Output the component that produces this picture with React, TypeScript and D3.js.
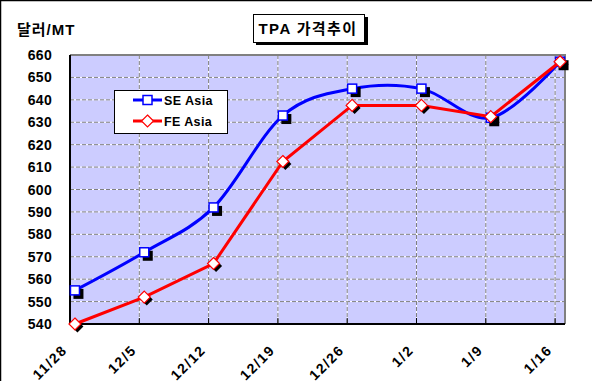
import React from 'react';
import * as d3 from 'd3';

const dateStrings = ['2003-11-28', '2003-12-05', '2003-12-12', '2003-12-19', '2003-12-26', '2004-01-02', '2004-01-09', '2004-01-16'];
const tickLabels = ['11/28', '12/5', '12/12', '12/19', '12/26', '1/2', '1/9', '1/16'];
const seAsia = [555, 572, 592, 633, 645, 645, 632, 657];
const feAsia = [540, 552, 567, 612.5, 637.5, 637.5, 632.5, 657];
const yTicks = [540, 550, 560, 570, 580, 590, 600, 610, 620, 630, 640, 650, 660];
const seriesNames = ['SE Asia', 'FE Asia'];
const chartTitle = 'TPA 가격추이';
const yAxisTitle = '달러/MT';

const W = 592;
const H = 386;
const PL = 70, PR = 565, PT = 55, PB = 324;
const FONT = "'Liberation Sans', Arial, 'Noto Sans CJK KR', sans-serif";

const DAY = 86400000;

export default function App() {
  const dates = dateStrings.map((s) => new Date(s + 'T00:00:00Z'));
  const start = dates[0];
  const end = new Date(dates[dates.length - 1].getTime() + DAY);
  const x = d3.scaleUtc().domain([start, end]).range([PL, PR]);
  const y = d3.scaleLinear().domain([540, 660]).range([PB, PT]);
  const px = (i: number) => x(new Date(dates[i].getTime() + DAY / 2));

  const seLine = d3
    .line<number>()
    .x((_, i) => px(i))
    .y((v) => y(v))
    .curve(d3.curveCatmullRom.alpha(0));
  const feLine = d3
    .line<number>()
    .x((_, i) => px(i))
    .y((v) => y(v))
    .curve(d3.curveLinear);

  const sq = 9;
  const dm = 6;
  const diamond = (cx: number, cy: number) =>
    `M${cx},${cy - dm}L${cx + dm},${cy}L${cx},${cy + dm}L${cx - dm},${cy}Z`;

  return (
    <svg width={W} height={H} style={{ position: 'absolute', left: 0, top: 0, background: '#fff' }} fontFamily={FONT}>
      <rect x={0} y={0} width={W} height={H} fill="#fff" />
      <line x1={0} y1={0.5} x2={W} y2={0.5} stroke="#000" strokeWidth={1.5} />
      <line x1={0.5} y1={0} x2={0.5} y2={381} stroke="#000" strokeWidth={1.5} />

      {/* plot area */}
      <rect x={PL} y={PT} width={PR - PL} height={PB - PT} fill="#CCCCFF" />
      {yTicks.slice(1, -1).map((t) => (
        <g key={'gy' + t}>
          <line x1={PL} x2={PR} y1={y(t)} y2={y(t)} stroke="#fff" strokeWidth={1} />
          <line x1={PL} x2={PR} y1={y(t)} y2={y(t)} stroke="#808080" strokeWidth={1} strokeDasharray="4 2" />
        </g>
      ))}
      {dates.slice(1).map((d, i) => (
        <g key={'gx' + i}>
          <line x1={x(d)} x2={x(d)} y1={PT} y2={PB} stroke="#fff" strokeWidth={1} />
          <line x1={x(d)} x2={x(d)} y1={PT} y2={PB} stroke="#808080" strokeWidth={1} strokeDasharray="4 2" />
          <line x1={x(d)} x2={x(d)} y1={PB - 6} y2={PB} stroke="#000" strokeWidth={1} />
        </g>
      ))}
      <line x1={PL} x2={PR + 1} y1={PT} y2={PT} stroke="#808080" strokeWidth={2} />
      <line x1={PR} x2={PR} y1={PT} y2={PB} stroke="#808080" strokeWidth={2} />
      <line x1={PL} x2={PR} y1={PB} y2={PB} stroke="#000" strokeWidth={2} />
      <line x1={PL} x2={PL} y1={PT} y2={PB + 1} stroke="#000" strokeWidth={2} />

      {/* y tick labels */}
      {yTicks.map((t) => (
        <text key={'yl' + t} x={52} y={y(t)} dy="0.36em" textAnchor="end" fontSize={14} fontWeight="bold" fill="#000" letterSpacing={0.3}>
          {t}
        </text>
      ))}
      {/* x tick labels */}
      {dates.map((d, i) => (
        <text
          key={'xl' + i}
          transform={`translate(${x(d) - 2},${351}) rotate(-45)`}
          textAnchor="end"
          fontSize={14}
          fontWeight="bold"
          fill="#000"
          letterSpacing={1.5}
        >
          {tickLabels[i]}
        </text>
      ))}

      {/* series lines */}
      <path d={seLine(seAsia) || ''} fill="none" stroke="#0000FF" strokeWidth={3} />
      {seAsia.map((v, i) => (
        <g key={'sm' + i}>
          <rect x={px(i) - sq / 2 + 3} y={y(v) - sq / 2 + 3} width={sq + 1} height={sq + 1} fill="#000" />
          <rect x={px(i) - sq / 2} y={y(v) - sq / 2} width={sq} height={sq} fill="#fff" stroke="#0000FF" strokeWidth={1.5} />
        </g>
      ))}
      <path d={feLine(feAsia) || ''} fill="none" stroke="#FF0000" strokeWidth={3} />
      {feAsia.map((v, i) => (
        <g key={'fm' + i}>
          <path d={diamond(px(i) + 2.5, y(v) + 2.5)} fill="#000" />
          <path d={diamond(px(i), y(v))} fill="#fff" stroke="#FF0000" strokeWidth={1.2} />
        </g>
      ))}

      {/* legend */}
      <rect x={114.5} y={90.5} width={113} height={43} fill="#fff" stroke="#000" strokeWidth={1} />
      {seriesNames.map((name, i) => {
        const ly = i === 0 ? 100 : 121;
        const color = i === 0 ? '#0000FF' : '#FF0000';
        return (
          <g key={'lg' + i}>
            <line x1={133} x2={162} y1={ly} y2={ly} stroke={color} strokeWidth={3} />
            {i === 0 ? (
              <rect x={147.5 - sq / 2} y={ly - sq / 2} width={sq} height={sq} fill="#fff" stroke={color} strokeWidth={1.5} />
            ) : (
              <path d={diamond(147.5, ly)} fill="#fff" stroke={color} strokeWidth={1.2} />
            )}
            <text x={164} y={ly} dy="0.36em" fontSize={12.5} fontWeight="bold" fill="#000" letterSpacing={0.4}>
              {name}
            </text>
          </g>
        );
      })}

      {/* title */}
      <rect x={256} y={17} width={112} height={28} fill="#000" />
      <rect x={253.5} y={14.5} width={111} height={28} fill="#fff" stroke="#000" strokeWidth={1} />
      <text x={308} y={28.5} dy="0.36em" textAnchor="middle" fontSize={15} fontWeight="bold" fill="#000" letterSpacing={1.4}>
        {chartTitle}
      </text>

      {/* y axis title */}
      <text x={17} y={30} dy="0.36em" fontSize={15} fontWeight="bold" fill="#000" letterSpacing={1}>
        {yAxisTitle}
      </text>
    </svg>
  );
}
